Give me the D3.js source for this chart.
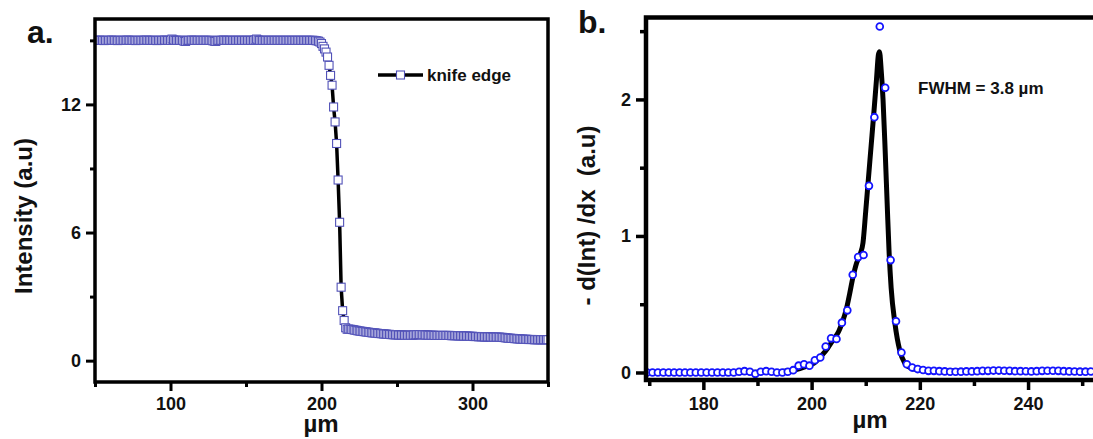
<!DOCTYPE html>
<html>
<head>
<meta charset="utf-8">
<script src="https://cdn.jsdelivr.net/npm/d3@7"></script>
<style>
  body { margin: 0; background: #fff; }
  svg { display: block; font-family: "Liberation Sans", Arial, sans-serif; }
</style>
</head>
<body>
<div id="chart"></div>
<script>
// ===== DATA =====
// panel a: knife edge scan (µm, intensity)
const knifeX = [
  50,51,52,53,54,55,56,57,58,59,
  60,61,62,63,64,65,66,67,68,69,
  70,71,72,73,74,75,76,77,78,79,
  80,81,82,83,84,85,86,87,88,89,
  90,91,92,93,94,95,96,97,98,99,
  100,101,102,103,104,105,106,107,108,109,
  110,111,112,113,114,115,116,117,118,119,
  120,121,122,123,124,125,126,127,128,129,
  130,131,132,133,134,135,136,137,138,139,
  140,141,142,143,144,145,146,147,148,149,
  150,151,152,153,154,155,156,157,158,159,
  160,161,162,163,164,165,166,167,168,169,
  170,171,172,173,174,175,176,177,178,179,
  180,181,182,183,184,185,186,187,188,189,
  190,191,192,193,194,195,196,197,198,199,
  200,201,202,203,204,205,206,207,208,209,
  210,211,212,213,214,215,216,217,218,219,
  220,221,222,223,224,225,226,227,228,229,
  230,231,232,233,234,235,236,237,238,239,
  240,241,242,243,244,245,246,247,248,249,
  250,251,252,253,254,255,256,257,258,259,
  260,261,262,263,264,265,266,267,268,269,
  270,271,272,273,274,275,276,277,278,279,
  280,281,282,283,284,285,286,287,288,289,
  290,291,292,293,294,295,296,297,298,299,
  300,301,302,303,304,305,306,307,308,309,
  310,311,312,313,314,315,316,317,318,319,
  320,321,322,323,324,325,326,327,328,329,
  330,331,332,333,334,335,336,337,338,339,
  340,341,342,343,344,345,346,347,348,349,
  350
];
const knifeY = [
  15.0,15.0,15.0,15.01,15.0,15.0,14.99,15.0,15.0,15.0,
  15.0,15.01,15.0,15.0,15.0,14.99,15.0,15.0,15.0,15.0,
  15.0,15.0,15.01,15.0,15.0,15.0,15.0,14.99,15.0,15.0,
  15.0,15.0,15.0,15.0,15.01,15.0,15.0,15.0,15.0,15.0,
  15.0,14.99,15.0,15.0,15.0,15.0,15.01,15.0,15.0,15.0,
  15.0,15.06,15.02,15.0,15.0,15.0,15.0,15.0,15.0,14.96,
  14.95,15.0,15.0,15.0,15.01,15.0,15.0,15.0,15.0,15.0,
  15.0,15.0,15.0,15.0,15.0,15.0,15.0,15.0,14.98,14.96,
  14.95,15.0,15.0,15.0,15.0,15.01,15.0,15.0,15.0,15.0,
  15.0,15.0,15.0,15.0,15.0,15.0,15.0,15.0,15.0,15.0,
  15.0,15.0,15.0,15.0,15.0,15.0,15.02,15.06,15.02,15.0,
  15.0,15.0,15.0,15.0,15.0,15.0,15.0,15.0,15.0,15.0,
  15.0,15.0,15.0,15.0,15.0,15.0,15.0,15.0,15.0,15.0,
  15.0,15.0,15.0,15.0,15.0,15.0,15.0,15.0,15.0,15.0,
  15.0,15.0,15.0,15.0,15.0,15.0,14.99,14.98,14.96,14.92,
  14.85,14.72,14.6,14.45,14.22,13.83,13.36,12.9,11.88,11.18,
  10.17,8.46,6.48,3.44,2.34,1.88,1.54,1.47,1.48,1.47,
  1.46,1.45,1.43,1.42,1.40,1.39,1.38,1.37,1.36,1.35,
  1.34,1.33,1.32,1.31,1.30,1.30,1.29,1.28,1.27,1.27,
  1.26,1.25,1.25,1.24,1.23,1.23,1.22,1.22,1.21,1.21,
  1.21,1.20,1.20,1.20,1.20,1.19,1.19,1.19,1.19,1.19,
  1.19,1.20,1.21,1.21,1.22,1.22,1.22,1.21,1.21,1.20,
  1.20,1.19,1.19,1.19,1.19,1.18,1.18,1.18,1.18,1.18,
  1.18,1.18,1.18,1.18,1.18,1.18,1.17,1.17,1.17,1.17,
  1.17,1.16,1.16,1.16,1.15,1.15,1.15,1.15,1.14,1.14,
  1.14,1.13,1.13,1.13,1.12,1.12,1.12,1.12,1.11,1.11,
  1.11,1.11,1.11,1.10,1.10,1.10,1.10,1.10,1.10,1.09,
  1.09,1.08,1.07,1.06,1.05,1.05,1.04,1.04,1.03,1.03,
  1.02,1.02,1.01,1.01,1.00,1.00,1.00,0.99,0.99,0.99,
  0.99,0.98,0.98,0.98,0.98,0.98,0.98,0.98,0.98,0.98,
  0.98
];

// panel b: derivative points
const derivX = [
  169.6,170.6,171.6,172.6,173.6,174.6,175.6,176.6,177.6,178.6,
  179.6,180.6,181.6,182.6,183.6,184.6,185.6,186.6,187.6,188.6,
  189.6,190.6,191.6,192.6,193.6,194.6,195.6,196.6,197.6,198.6,
  199.6,200.6,201.6,202.6,203.6,204.6,205.6,206.6,207.6,208.6,
  209.6,210.6,211.6,212.6,213.6,214.6,215.6,216.6,217.6,218.6,
  219.6,220.6,221.6,222.6,223.6,224.6,225.6,226.6,227.6,228.6,
  229.6,230.6,231.6,232.6,233.6,234.6,235.6,236.6,237.6,238.6,
  239.6,240.6,241.6,242.6,243.6,244.6,245.6,246.6,247.6,248.6,
  249.6,250.6,251.6
];
const derivY = [
  0,0,0,0,0,0,0,0,0,0,
  0,0,0,0,0,0,0,0.005,0.01,0.005,
  -0.01,0.005,0.01,0.005,0,0,0.005,0.017,0.05,0.06,
  0.05,0.09,0.11,0.19,0.25,0.245,0.365,0.455,0.716,0.845,
  0.86,1.367,1.87,2.534,2.085,0.823,0.375,0.146,0.06,0.036,
  0.025,0.018,0.012,0.012,0.01,0.008,0.005,0.005,0.006,0.008,
  0.008,0.01,0.012,0.012,0.014,0.014,0.013,0.012,0.01,0.01,
  0.009,0.008,0.01,0.012,0.013,0.013,0.012,0.01,0.008,0.007,
  0.006,0.006,0.007
];

// panel b: fitted curve
const fitX = [169.4,185,192,195,197,199,200.5,202,203,204,205,205.6,206.4,207,207.6,208.3,209,209.5,210,210.5,211,211.5,212,212.35,212.55,212.85,213.2,213.6,214,214.3,214.7,215.4,216.3,217.2,218,219,220,222,252];
const fitY = [0,0,0.005,0.01,0.02,0.045,0.07,0.13,0.18,0.24,0.3,0.36,0.46,0.57,0.69,0.8,0.87,0.95,1.18,1.42,1.66,1.9,2.15,2.33,2.35,2.22,2.0,1.62,1.2,0.9,0.62,0.36,0.16,0.07,0.04,0.025,0.018,0.012,0.01];

// ticks
const aXTicks = [100, 200, 300];
const aXMinor = [50, 150, 250, 350];
const aYTicks = [0, 6, 12];
const aYMinor = [3, 9, 15];
const bXTicks = [180, 200, 220, 240];
const bXMinor = [170, 190, 210, 230, 250];
const bYTicks = [0, 1, 2];
const bYMinor = [0.5, 1.5, 2.5];

// ===== SIZE =====
const width = 1093;
const height = 439;

d3.select("#chart").selectAll("*").remove();

const svg = d3.select("#chart")
  .append("svg")
  .attr("width", width)
  .attr("height", height);

svg.append("rect").attr("width", width).attr("height", height).attr("fill", "#fff");

const defs = svg.append("defs");

// ===== PANEL A =====
const A = { left: 95, right: 548, top: 19, bottom: 382 };
const xA = d3.scaleLinear().domain([50, 350]).range([A.left, A.right]);
const yA = d3.scaleLinear().domain([-1, 16]).range([A.bottom, A.top]);

// ===== PANEL B =====
const B = { left: 646, right: 1093, top: 17.5, bottom: 380 };
const xB = d3.scaleLinear().domain([169.4, 252]).range([B.left, B.right]);
const yB = d3.scaleLinear().domain([-0.055, 2.6]).range([B.bottom, B.top]);

defs.append("clipPath").attr("id", "clipA")
  .append("rect")
  .attr("x", A.left).attr("y", A.top)
  .attr("width", A.right - A.left).attr("height", A.bottom - A.top);

defs.append("clipPath").attr("id", "clipB")
  .append("rect")
  .attr("x", B.left).attr("y", B.top)
  .attr("width", B.right - B.left + 10).attr("height", B.bottom - B.top);

function drawAxes(x, y, box, o){
  const g = svg.append("g");

  // minor ticks
  g.append("g")
    .attr("transform", `translate(0,${box.bottom})`)
    .call(d3.axisBottom(x).tickValues(o.xMinor).tickSize(o.minor).tickFormat(""));
  g.append("g")
    .attr("transform", `translate(${box.left},0)`)
    .call(d3.axisLeft(y).tickValues(o.yMinor).tickSize(o.minor).tickFormat(""));

  // major ticks
  g.append("g")
    .attr("class", "xmaj")
    .attr("transform", `translate(0,${box.bottom})`)
    .call(d3.axisBottom(x).tickValues(o.xTicks).tickSize(o.major).tickPadding(o.xPad).tickFormat(d3.format("d")));
  g.append("g")
    .attr("class", "ymaj")
    .attr("transform", `translate(${box.left},0)`)
    .call(d3.axisLeft(y).tickValues(o.yTicks).tickSize(o.major).tickPadding(o.yPad).tickFormat(d3.format("d")));

  g.selectAll(".domain").remove();
  g.selectAll(".tick line")
    .attr("stroke", "#000")
    .attr("stroke-width", o.tickW);
  g.selectAll(".tick text")
    .attr("fill", "#111")
    .style("font-size", "18px")
    .style("font-weight", "bold")
    .style("font-family", "'Liberation Sans', Arial, sans-serif");

  // frame
  svg.append("rect")
    .attr("x", box.left)
    .attr("y", box.top)
    .attr("width", (o.open ? box.right + 20 : box.right) - box.left)
    .attr("height", box.bottom - box.top)
    .attr("fill", "none")
    .attr("stroke", "#000")
    .attr("stroke-width", o.frameW);
}

// ----- panel a marks -----
const knife = knifeX.map((d, i) => ({ x: d, y: knifeY[i] }));

const gA = svg.append("g").attr("clip-path", "url(#clipA)");

gA.append("path")
  .datum(knife)
  .attr("fill", "none")
  .attr("stroke", "#000")
  .attr("stroke-width", 3.5)
  .attr("d", d3.line().x(d => xA(d.x)).y(d => yA(d.y)));

gA.selectAll("rect.sq")
  .data(knife)
  .join("rect")
  .attr("class", "sq")
  .attr("x", d => xA(d.x) - 4)
  .attr("y", d => yA(d.y) - 4)
  .attr("width", 8)
  .attr("height", 8)
  .attr("fill", "#fff")
  .attr("stroke", "#5252b8")
  .attr("stroke-width", 1.1);

drawAxes(xA, yA, A, {
  xTicks: aXTicks, xMinor: aXMinor, yTicks: aYTicks, yMinor: aYMinor,
  major: 9, minor: 5, xPad: 6, yPad: 5, tickW: 3, frameW: 3.5, open: false
});

// legend
const leg = svg.append("g");
leg.append("line")
  .attr("x1", 378).attr("x2", 423).attr("y1", 75).attr("y2", 75)
  .attr("stroke", "#000").attr("stroke-width", 3.5);
leg.append("rect")
  .attr("x", 396.5).attr("y", 71).attr("width", 8).attr("height", 8)
  .attr("fill", "#fff").attr("stroke", "#5252b8").attr("stroke-width", 1.1);
leg.append("text")
  .attr("x", 427).attr("y", 81)
  .style("font-size", "17px").style("font-weight", "bold")
  .attr("fill", "#111")
  .text("knife edge");

// ----- panel b marks -----
const deriv = derivX.map((d, i) => ({ x: d, y: derivY[i] }));
const fit = fitX.map((d, i) => ({ x: d, y: fitY[i] }));

const gB = svg.append("g").attr("clip-path", "url(#clipB)");

gB.append("path")
  .datum(fit)
  .attr("fill", "none")
  .attr("stroke", "#000")
  .attr("stroke-width", 5)
  .attr("stroke-linejoin", "round")
  .attr("d", d3.line().curve(d3.curveMonotoneX).x(d => xB(d.x)).y(d => yB(d.y)));

gB.selectAll("circle")
  .data(deriv)
  .join("circle")
  .attr("cx", d => xB(d.x))
  .attr("cy", d => yB(d.y))
  .attr("r", 3.4)
  .attr("fill", "#fff")
  .attr("stroke", "#1414ff")
  .attr("stroke-width", 1.8);

drawAxes(xB, yB, B, {
  xTicks: bXTicks, xMinor: bXMinor, yTicks: bYTicks, yMinor: bYMinor,
  major: 10, minor: 6, xPad: 7, yPad: 5, tickW: 3.5, frameW: 4.5, open: true
});

svg.append("text")
  .attr("x", 918).attr("y", 94)
  .style("font-size", "17px").style("font-weight", "bold")
  .attr("fill", "#111")
  .text("FWHM = 3.8 µm");

// ===== LABELS =====
function label(x, y, txt, size, rotate){
  const t = svg.append("text")
    .style("font-size", size + "px")
    .style("font-weight", "bold")
    .attr("fill", "#111")
    .text(txt);
  if (rotate) {
    t.attr("transform", `translate(${x},${y}) rotate(-90)`).attr("text-anchor", "middle");
  } else {
    t.attr("x", x).attr("y", y);
  }
  return t;
}

label(27, 43, "a.", 32, false);
label(578, 33, "b.", 32, false);

label(32, 216, "Intensity (a.u)", 24, true);
label(595, 215.5, "- d(Int) /dx  (a.u)", 24, true).style("white-space", "pre");

label(321, 432, "µm", 24, false).attr("text-anchor", "middle");
label(870, 428, "µm", 24, false).attr("text-anchor", "middle");
</script>
</body>
</html>
